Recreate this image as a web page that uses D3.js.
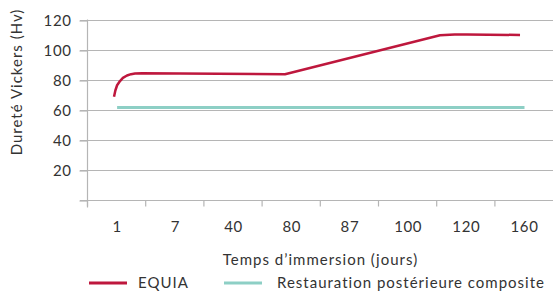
<!DOCTYPE html>
<html>
<head>
<meta charset="utf-8">
<script src="https://cdn.jsdelivr.net/npm/d3@7"></script>
<style>
  body { margin: 0; background: #fff; }
  text { font-family: Lato, "Open Sans", sans-serif; fill: #333; letter-spacing: 0.6px; }
  .wide { letter-spacing: 1px; }
</style>
</head>
<body>
<div id="chart"></div>
<script>
// categories on the x axis (days)
var days = ["1", "7", "40", "80", "87", "100", "120", "160"];
var yTicks = [0, 20, 40, 60, 80, 100, 120];

// composite : one value per category
var composite = [61.7, 61.7, 61.7, 61.7, 61.7, 61.7, 61.7, 61.7];

// EQUIA curve, position expressed in category units (0 = left edge of "1")
var equiaPos = [0.447, 0.47, 0.5, 0.55, 0.6, 0.67, 0.74, 0.808, 0.928, 3.385, 6.048, 6.3, 6.512, 7.423];
var equiaVal = [68.9, 73, 76.5, 79.3, 81.4, 83, 83.9, 84.3, 84.5, 83.8, 109.8, 110.3, 110.4, 110];

var seriesNames = ["EQUIA", "Restauration postérieure composite"];
var colors = ["#be173d", "#8dcfc5"];

var width = 553, height = 295;
var margin = {top: 20, right: 0, bottom: 95, left: 88};
var fontSize = "15px";

var svg = d3.select("#chart")
    .append("svg")
    .attr("width", width)
    .attr("height", height);

var x = d3.scaleBand()
    .domain(days)
    .range([margin.left, margin.left + 8 * 58.2])
    .padding(0);

var xPos = d3.scaleLinear()
    .domain([0, days.length])
    .range(x.range());

var y = d3.scaleLinear()
    .domain([0, 120])
    .range([200, 20]);

// gridlines
svg.append("g")
    .selectAll("line")
    .data(yTicks.filter(function(d) { return d > 0; }))
    .enter().append("line")
    .attr("x1", 80)
    .attr("x2", width)
    .attr("y1", function(d) { return y(d) + 0.5; })
    .attr("y2", function(d) { return y(d) + 0.5; })
    .style("stroke", "#b5b5b5")
    .style("stroke-width", 1.2);

// y axis
var yAxis = svg.append("g")
    .attr("transform", "translate(" + (margin.left - 0.5) + ",0.5)")
    .call(d3.axisLeft(y).tickValues(yTicks).tickSize(8).tickPadding(8)
        .tickFormat(function(d) { return d === 0 ? "" : d; }));
yAxis.select(".domain").remove();
yAxis.append("line")
    .attr("y1", y(120) - 1)
    .attr("y2", y(0) + 7)
    .style("stroke", "#b5b5b5")
    .style("stroke-width", 1.2);
yAxis.selectAll(".tick line").style("stroke", "#b5b5b5").style("stroke-width", 1.2);
yAxis.selectAll("text").style("font-size", fontSize).style("fill", "#333");

// x axis
var xAxis = svg.append("g")
    .attr("transform", "translate(0," + (y(0) + 0.5) + ")")
    .call(d3.axisBottom(x).tickSize(0).tickPadding(21));
xAxis.select(".domain").remove();
xAxis.append("line")
    .attr("x1", 80)
    .attr("x2", width)
    .style("stroke", "#b5b5b5")
    .style("stroke-width", 1.2);
xAxis.selectAll(".sep")
    .data(days)
    .enter().append("line")
    .attr("class", "sep")
    .attr("x1", function(d) { return x(d) - 0.5; })
    .attr("x2", function(d) { return x(d) - 0.5; })
    .attr("y1", 0)
    .attr("y2", 6)
    .style("stroke", "#b5b5b5")
    .style("stroke-width", 1.2);
xAxis.selectAll(".tick text").style("font-size", fontSize).style("fill", "#333");

// axis titles
svg.append("text")
    .attr("class", "wide")
    .attr("x", (margin.left + width) / 2)
    .attr("y", 265)
    .attr("text-anchor", "middle")
    .style("font-size", fontSize)
    .text("Temps d’immersion (jours)");

svg.append("text")
    .attr("class", "wide")
    .attr("transform", "translate(22,82) rotate(-90)")
    .attr("text-anchor", "middle")
    .style("font-size", fontSize)
    .text("Dureté Vickers (Hv)");

// composite line
var compLine = d3.line()
    .x(function(d, i) { return x(days[i]) + x.bandwidth() / 2; })
    .y(function(d) { return y(d); });

svg.append("path")
    .datum(composite)
    .attr("d", compLine)
    .style("fill", "none")
    .style("stroke", colors[1])
    .style("stroke-width", 3);

// EQUIA line
var equiaLine = d3.line()
    .x(function(d, i) { return xPos(equiaPos[i]); })
    .y(function(d) { return y(d); })
    .curve(d3.curveLinear);

svg.append("path")
    .datum(equiaVal)
    .attr("d", equiaLine)
    .style("fill", "none")
    .style("stroke", colors[0])
    .style("stroke-width", 2.5)
    .style("stroke-linejoin", "round");

// legend
var legendX = [89, 224];
var legend = svg.append("g")
    .selectAll("g")
    .data(seriesNames)
    .enter().append("g")
    .attr("transform", function(d, i) { return "translate(" + legendX[i] + ",283)"; });

legend.append("line")
    .attr("x1", 0)
    .attr("x2", 38)
    .style("stroke", function(d, i) { return colors[i]; })
    .style("stroke-width", 3);

legend.append("text")
    .attr("class", "wide")
    .attr("x", function(d, i) { return i === 0 ? 49 : 53; })
    .attr("y", 5)
    .style("font-size", fontSize)
    .text(function(d) { return d; });
</script>
</body>
</html>
